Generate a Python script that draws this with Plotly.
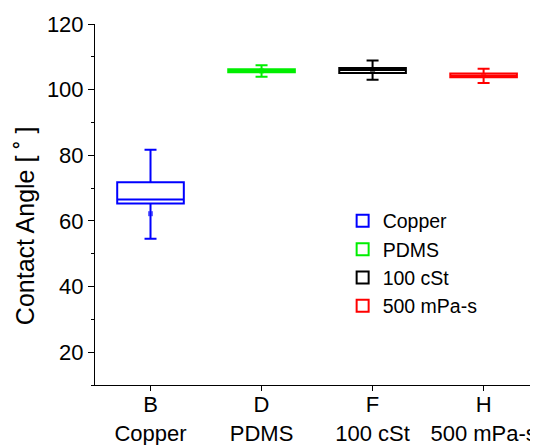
import plotly.graph_objects as go

categories = ["B<br>Copper", "D<br>PDMS", "F<br>100 cSt", "H<br>500 mPa-s"]
names = ["Copper", "PDMS", "100 cSt", "500 mPa-s"]
colors = ["#0000ff", "#00ee00", "#000000", "#ff0000"]
q1 = [65.3, 105.3, 105.1, 103.8]
median = [66.5, 105.6, 106.0, 104.2]
q3 = [71.8, 106.2, 106.6, 104.9]
lower = [54.6, 103.9, 103.0, 102.0]
upper = [81.7, 107.4, 108.9, 106.4]
means = [62.2, 105.7, 105.9, 104.3]
y_title = "Contact Angle [ ˚ ]"

fig = go.Figure()
for i in range(4):
    fig.add_trace(go.Box(
        x=[i], q1=[q1[i]], median=[median[i]], q3=[q3[i]],
        lowerfence=[lower[i]], upperfence=[upper[i]],
        name=names[i], width=0.6, whiskerwidth=0.18,
        line=dict(color=colors[i], width=2),
        fillcolor="rgba(0,0,0,0)", boxpoints=False,
    ))
for i in range(4):
    fig.add_trace(go.Scatter(
        x=[i], y=[means[i]], mode="markers", showlegend=False,
        marker=dict(symbol="square", size=5, color=colors[i], opacity=0.6),
        hoverinfo="skip",
    ))

# page body has an 8px default margin; figure is sized to fit the 538x445 window
fig.update_layout(
    width=530, height=437,
    margin=dict(l=87, r=0, t=16, b=60, autoexpand=False),
    plot_bgcolor="white", paper_bgcolor="white",
    font=dict(family="Arial, Liberation Sans, sans-serif", size=20, color="black"),
    boxmode="overlay",
    legend=dict(x=0.559, y=0.508, xanchor="left", yanchor="top",
                bgcolor="rgba(0,0,0,0)", font=dict(size=19.5), tracegroupgap=0),
    xaxis=dict(range=[-0.5, 3.49], tickvals=[0, 1, 2, 3], ticktext=categories,
               showline=True, linecolor="black", linewidth=1, ticks="outside",
               ticklen=5, tickcolor="black", showgrid=False, zeroline=False,
               automargin=False, tickfont=dict(size=22), ticklabelstandoff=-5),
    yaxis=dict(range=[10, 120], tickvals=[20, 40, 60, 80, 100, 120],
               showline=True, linecolor="black", linewidth=1, ticks="outside",
               ticklen=6, tickcolor="black", showgrid=False, zeroline=False,
               automargin=False, tickfont=dict(size=22),
               minor=dict(tickvals=[10, 30, 50, 70, 90, 110], ticks="outside",
                          ticklen=3, tickcolor="black")),
    annotations=[dict(text=y_title, textangle=-90, xref="paper", yref="paper",
                      x=-0.158, y=0.44, xanchor="center", yanchor="middle",
                      showarrow=False, font=dict(size=25))],
)
fig.write_html("out.html")
